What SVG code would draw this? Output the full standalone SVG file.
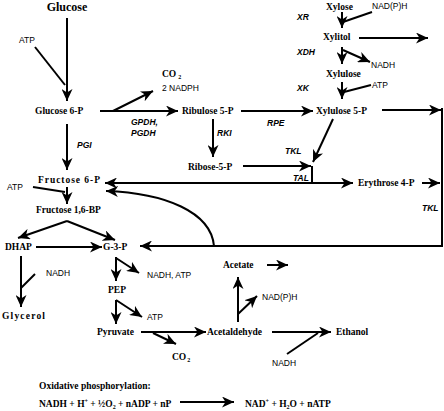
<svg xmlns="http://www.w3.org/2000/svg" width="444" height="411" viewBox="0 0 444 411">
<style>
.n{font-family:"Liberation Serif",serif;font-weight:bold;font-size:9.5px;fill:#000}
.big{font-size:12px}
.c{font-family:"Liberation Sans",sans-serif;font-size:8.5px;fill:#000}
.e{font-family:"Liberation Sans",sans-serif;font-size:8.5px;font-weight:bold;font-style:italic;fill:#000}
.l{fill:none;stroke:#000;stroke-width:2}
.a{marker-end:url(#ah)}
</style>
<defs>
<marker id="ah" markerUnits="userSpaceOnUse" markerWidth="13" markerHeight="11" refX="12" refY="5.5" orient="auto">
<path d="M0,0 L12,5.5 L0,11 L3.5,5.5 Z" fill="#000"/>
</marker>
</defs>
<rect width="444" height="411" fill="#fff"/>
<g id="connectors">
<path class="l a" d="M67,18 L67,101"/>
<path class="l" d="M35,47 L65,85"/>
<path class="l a" d="M100,111 L178,111"/>
<path class="l a" d="M113,111 L153,91"/>
<path class="l a" d="M241,111 L313,111"/>
<path class="l a" d="M213,119 L213,157"/>
<path class="l a" d="M243,166 L311,166"/>
<path class="l a" d="M342,12 L342,28"/>
<path class="l" d="M372,12 L343,22"/>
<path class="l a" d="M359,38 L428,38"/>
<path class="l a" d="M342,47 L342,64"/>
<path class="l a" d="M343,50 L370,62"/>
<path class="l a" d="M342,82 L342,99"/>
<path class="l" d="M371,85 L344,92"/>
<path class="l a" d="M382,110 L441,110"/>
<path class="l a" d="M442,108 L442,246 L140,246"/>
<path class="l a" d="M422,183 L440,183"/>
<path class="l a" d="M333,119 L313,162"/>
<path class="l" d="M312,166 L312,184"/>
<path class="l a" d="M312,183 L105,183"/>
<path class="l a" d="M312,183 L353,183"/>
<path class="l a" d="M214,246 C211,212 165,193 106,191"/>
<path class="l a" d="M67,124 L67,170"/>
<path class="l" d="M33,187 L65,192"/>
<path class="l a" d="M67,187 L67,204"/>
<path class="l a" d="M67,221 L18,238"/>
<path class="l a" d="M67,221 L115,240"/>
<path class="l a" d="M36,247 L102,247"/>
<path class="l a" d="M21,256 L21,307"/>
<path class="l" d="M35,274 L21,288"/>
<path class="l a" d="M116,257 L116,281"/>
<path class="l a" d="M116,258 L139,273"/>
<path class="l a" d="M116,300 L116,324"/>
<path class="l a" d="M116,300 L142,317"/>
<path class="l a" d="M141,332 L206,332"/>
<path class="l a" d="M153,333 L176,344"/>
<path class="l a" d="M238,322 L238,277"/>
<path class="l a" d="M238,314 L257,296"/>
<path class="l a" d="M267,265 L288,265"/>
<path class="l a" d="M272,332 L331,332"/>
<path class="l" d="M287,354 L318,333"/>
<path class="l a" d="M180,402 L234,402"/>
</g>
<g id="glucose"><text class="n big" x="67" y="11" text-anchor="middle">Glucose</text></g>
<g id="atp1"><text class="c" x="19" y="43">ATP</text></g>
<g id="g6p"><text class="n" x="35" y="114">Glucose 6-P</text></g>
<g id="co2a"><text class="n" x="162" y="77" font-size="10">CO<tspan font-size="6" dx="2" dy="2">2</tspan></text></g>
<g id="nadph2"><text class="c" x="162" y="91">2 NADPH</text></g>
<g id="gpdh"><text class="e" x="131" y="125">GPDH,</text><text class="e" x="131" y="136">PGDH</text></g>
<g id="ru5p"><text class="n" x="182" y="114">Ribulose 5-P</text></g>
<g id="rpe"><text class="e" x="267" y="126">RPE</text></g>
<g id="rki"><text class="e" x="217" y="136">RKI</text></g>
<g id="r5p"><text class="n" x="188" y="169.5">Ribose-5-P</text></g>
<g id="xylose"><text class="n" x="326" y="10" font-size="14">Xylose</text></g>
<g id="nadph1"><text class="c" x="372" y="9">NAD(P)H</text></g>
<g id="xr"><text class="e" x="297" y="20">XR</text></g>
<g id="xylitol"><text class="n" x="323" y="40">Xylitol</text></g>
<g id="xdh"><text class="e" x="297" y="55">XDH</text></g>
<g id="nadh1"><text class="c" x="371" y="68">NADH</text></g>
<g id="xylulose"><text class="n" x="326" y="76.5">Xylulose</text></g>
<g id="xk"><text class="e" x="297" y="91">XK</text></g>
<g id="atp2"><text class="c" x="372" y="88">ATP</text></g>
<g id="xu5p"><text class="n" x="316" y="114">Xylulose 5-P</text></g>
<g id="tkl1"><text class="e" x="285" y="154">TKL</text></g>
<g id="tal"><text class="e" x="293" y="181">TAL</text></g>
<g id="e4p"><text class="n" x="358" y="186">Erythrose 4-P</text></g>
<g id="tkl2"><text class="e" x="422" y="211">TKL</text></g>
<g id="pgi"><text class="e" x="77" y="148">PGI</text></g>
<g id="f6p"><text class="n" x="38" y="183" font-size="10.5" textLength="62" lengthAdjust="spacing">Fructose 6-P</text></g>
<g id="atp3"><text class="c" x="7" y="190">ATP</text></g>
<g id="f16bp"><text class="n" x="36" y="213">Fructose 1,6-BP</text></g>
<g id="dhap"><text class="n" x="5" y="250">DHAP</text></g>
<g id="g3p"><text class="n" x="103" y="250">G-3-P</text></g>
<g id="nadh2"><text class="c" x="46" y="276">NADH</text></g>
<g id="glycerol"><text class="n" x="2" y="319" font-size="10.5" textLength="43" lengthAdjust="spacing">Glycerol</text></g>
<g id="nadhatp"><text class="c" x="147" y="278">NADH, ATP</text></g>
<g id="pep"><text class="n" x="108" y="293">PEP</text></g>
<g id="atp4"><text class="c" x="147" y="320">ATP</text></g>
<g id="pyruvate"><text class="n" x="97" y="335">Pyruvate</text></g>
<g id="co2b"><text class="n" x="172" y="360" font-size="10">CO<tspan font-size="6" dx="1" dy="2">2</tspan></text></g>
<g id="acetaldehyde"><text class="n" x="207" y="335">Acetaldehyde</text></g>
<g id="acetate"><text class="n" x="223" y="268">Acetate</text></g>
<g id="nadph3"><text class="c" x="262" y="300">NAD(P)H</text></g>
<g id="ethanol"><text class="n" x="336" y="335">Ethanol</text></g>
<g id="nadh3"><text class="c" x="272" y="366">NADH</text></g>
<g id="oxphos">
<text class="n" x="39" y="389">Oxidative phosphorylation:</text>
<text class="n" x="39" y="407">NADH + H<tspan font-size="6" dy="-4">+</tspan><tspan dy="4"> + ½O</tspan><tspan font-size="6" dy="2">2</tspan><tspan dy="-2"> + nADP + nP</tspan></text>
<text class="n" x="245" y="407">NAD<tspan font-size="6" dy="-4">+</tspan><tspan dy="4"> + H</tspan><tspan font-size="6" dy="2">2</tspan><tspan dy="-2">O + nATP</tspan></text>
</g>
</svg>
